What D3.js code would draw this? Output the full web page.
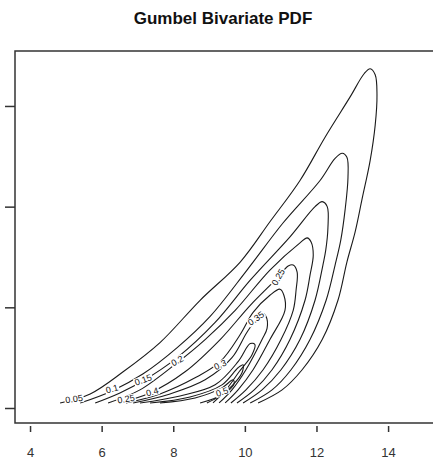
<!DOCTYPE html>
<html>
<head>
<meta charset="utf-8">
<script src="https://cdn.jsdelivr.net/npm/d3@7"></script>
<style>
  body { margin: 0; background: #fff; overflow: hidden; }
  svg { display: block; }
  text { font-family: "Liberation Sans", Arial, sans-serif; }
</style>
</head>
<body>
<div id="chart"></div>
<script>
// x ticks and y ticks (y labels fall outside the picture)
const xTicks = [4, 6, 8, 10, 12, 14];
const yTicks = [0, 1, 2, 3];

// contour levels
const levels = [0.05, 0.1, 0.15, 0.2, 0.25, 0.3, 0.35, 0.4, 0.45, 0.5];

// each contour is an open curve: left foot -> left flank -> tip -> right flank -> right foot
const c05 = [[4.84,0.05],[5.68,0.14],[6.60,0.36],[7.63,0.65],[8.75,1.07],[9.87,1.45],[10.70,1.85],[11.54,2.26],[12.24,2.69],[12.94,3.09],[13.33,3.32],[13.50,3.37],[13.64,3.31],[13.69,3.11],[13.64,2.81],[13.50,2.46],[13.27,2.07],[13.08,1.75],[12.85,1.45],[12.60,1.07],[12.16,0.68],[11.60,0.38],[11.04,0.18],[10.37,0.05]];
const c10 = [[5.40,0.05],[6.29,0.17],[7.16,0.34],[8.11,0.60],[9.03,0.91],[10.06,1.37],[11.07,1.84],[12.10,2.26],[12.52,2.48],[12.72,2.53],[12.85,2.49],[12.88,2.29],[12.80,1.97],[12.68,1.67],[12.52,1.42],[12.27,1.07],[11.82,0.68],[11.29,0.38],[10.76,0.18],[10.15,0.05]];
const c15 = [[5.82,0.05],[6.51,0.15],[7.16,0.27],[8.11,0.50],[9.17,0.85],[10.15,1.27],[11.26,1.70],[11.96,2.00],[12.16,2.05],[12.30,2.00],[12.32,1.79],[12.26,1.57],[12.18,1.42],[11.96,1.07],[11.54,0.68],[11.01,0.38],[10.48,0.18],[9.95,0.05]];
const c20 = [[6.18,0.05],[7.07,0.18],[8.11,0.45],[8.89,0.68],[9.73,0.97],[10.70,1.37],[11.54,1.64],[11.74,1.69],[11.85,1.65],[11.91,1.52],[11.82,1.32],[11.68,1.07],[11.26,0.68],[10.76,0.38],[10.26,0.18],[9.78,0.05]];
const c25 = [[6.46,0.05],[7.35,0.15],[8.33,0.36],[9.31,0.68],[10.15,1.02],[10.93,1.30],[11.21,1.41],[11.35,1.42],[11.46,1.35],[11.43,1.17],[11.35,0.97],[11.01,0.68],[10.51,0.38],[10.03,0.18],[9.61,0.05]];
const c30 = [[6.68,0.05],[7.63,0.14],[8.61,0.30],[9.31,0.46],[9.87,0.73],[10.23,0.95],[10.70,1.12],[10.98,1.18],[11.09,1.12],[11.12,0.97],[10.70,0.68],[10.23,0.38],[9.81,0.18],[9.45,0.05]];
const c35 = [[6.88,0.05],[7.91,0.14],[8.89,0.28],[9.64,0.50],[10.09,0.77],[10.48,0.94],[10.59,0.91],[10.62,0.79],[10.48,0.68],[10.03,0.38],[9.64,0.18],[9.28,0.05]];
const c40 = [[7.07,0.05],[8.19,0.12],[9.17,0.23],[9.81,0.46],[10.15,0.64],[10.28,0.63],[10.20,0.53],[9.84,0.36],[9.47,0.18],[9.11,0.05]];
const c45 = [[7.35,0.05],[8.47,0.11],[9.36,0.23],[9.81,0.40],[9.95,0.43],[9.92,0.35],[9.64,0.22],[9.31,0.12],[8.94,0.05]];
const c50 = [[7.63,0.05],[8.61,0.10],[9.36,0.20],[9.67,0.28],[9.70,0.24],[9.36,0.13],[8.75,0.05]];
const contourLines = [c05, c10, c15, c20, c25, c30, c35, c40, c45, c50];

// inline contour labels: text, x, y, angle
const labelText = ["0.05", "0.1", "0.15", "0.2", "0.25", "0.3", "0.35", "0.25", "0.4", "0.5"];
const labelX = [5.23, 6.29, 7.16, 8.11, 10.93, 9.31, 10.31, 6.68, 7.41, 9.36];
const labelY = [0.09, 0.19, 0.28, 0.47, 1.30, 0.43, 0.89, 0.09, 0.16, 0.16];
const labelAngle = [-8, -15, -20, -28, -60, -25, -35, -10, -15, -20];

const W = 433, H = 460;
const margin = { top: 51, right: -7, bottom: 37, left: 15 };

const svg = d3.select("#chart").append("svg").attr("width", W).attr("height", H);

const x = d3.scaleLinear().domain([3.58, 15.45]).range([margin.left, W - margin.right]);
const y = d3.scaleLinear().domain([-0.149, 3.546]).range([H - margin.bottom, margin.top]);

svg.append("text").attr("x", 223).attr("y", 24).attr("text-anchor", "middle")
  .style("font-size", "17px").style("font-weight", "bold").attr("fill", "#111")
  .text("Gumbel Bivariate PDF");

const line = d3.line().x(d => x(d[0])).y(d => y(d[1])).curve(d3.curveCatmullRom.alpha(0.5));

svg.append("g").selectAll("path").data(contourLines).enter().append("path")
  .attr("d", line).attr("fill", "none").attr("stroke", "#1a1a1a").attr("stroke-width", 1.1);

// labels sit on a white patch that breaks the line, like R's contour()
const lab = svg.append("g").selectAll("g").data(labelText).enter().append("g")
  .attr("transform", (d, i) => `translate(${x(labelX[i])},${y(labelY[i])}) rotate(${labelAngle[i]})`);
lab.append("text").attr("text-anchor", "middle").attr("dy", "0.35em")
  .style("font-size", "9px").attr("fill", "#111").text(d => d);
lab.each(function() {
  const g = d3.select(this);
  const b = g.select("text").node().getBBox();
  g.insert("rect", "text").attr("x", b.x - 1).attr("y", b.y + 1).attr("width", b.width + 2).attr("height", b.height - 2).attr("fill", "#fff");
});

// frame: the right side of the box is cut off by the picture edge
const x0 = margin.left, y0 = margin.top, y1 = H - margin.bottom;
svg.append("path")
  .attr("d", `M${W + 5},${y0}H${x0}V${y1}H${W + 5}`)
  .attr("fill", "none").attr("stroke", "#333").attr("stroke-width", 1.5);

const xAxis = svg.append("g").attr("transform", `translate(0,${y1 + 3})`)
  .call(d3.axisBottom(x).tickValues(xTicks).tickSize(6).tickPadding(16));
xAxis.select(".domain").remove();
xAxis.selectAll("line").attr("stroke", "#333").attr("stroke-width", 1.5);
xAxis.selectAll("text").style("font-size", "13px").attr("fill", "#333");

const yAxis = svg.append("g").attr("transform", `translate(${margin.left},0)`)
  .call(d3.axisLeft(y).tickValues(yTicks).tickSize(10).tickFormat(""));
yAxis.select(".domain").remove();
yAxis.selectAll("line").attr("stroke", "#333").attr("stroke-width", 1.5);
</script>
</body>
</html>
